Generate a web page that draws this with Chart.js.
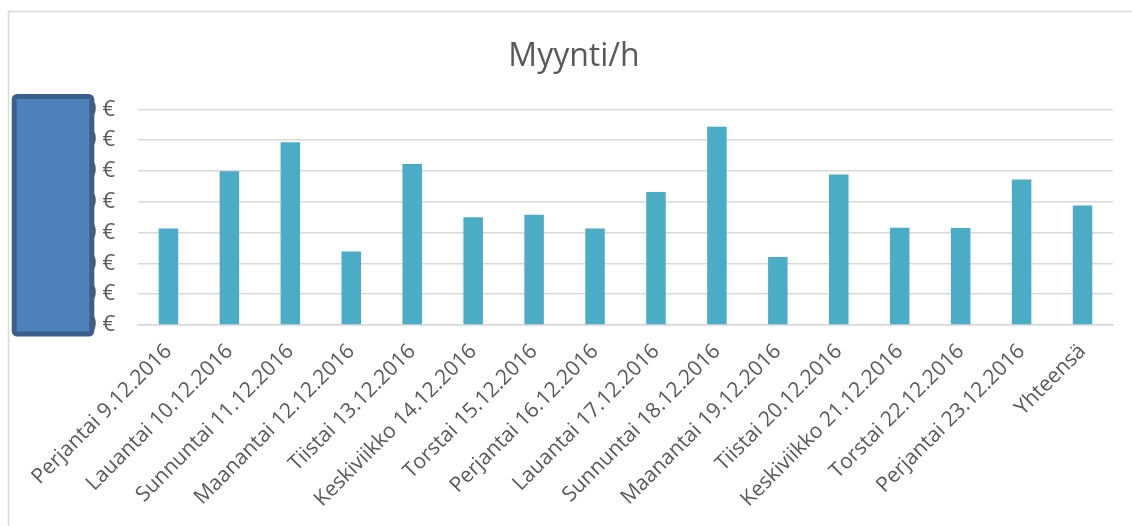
<!DOCTYPE html>
<html>
<head>
<meta charset="utf-8">
<script src="https://cdn.jsdelivr.net/npm/chart.js@4/dist/chart.umd.min.js"></script>
<style>
  html, body { margin: 0; padding: 0; background: #fff; }
  #wrap { width: 1132px; height: 526px; position: relative; }
</style>
</head>
<body>
<div id="wrap"><canvas id="chart"></canvas></div>
<script>
// categories and values (sales per hour)
const days = [
  "Perjantai 9.12.2016", "Lauantai 10.12.2016", "Sunnuntai 11.12.2016",
  "Maanantai 12.12.2016", "Tiistai 13.12.2016", "Keskiviikko 14.12.2016",
  "Torstai 15.12.2016", "Perjantai 16.12.2016", "Lauantai 17.12.2016",
  "Sunnuntai 18.12.2016", "Maanantai 19.12.2016", "Tiistai 20.12.2016",
  "Keskiviikko 21.12.2016", "Torstai 22.12.2016", "Perjantai 23.12.2016",
  "Yhteensä"
];
const salesPerHour = [
  31.3, 49.9, 59.3, 23.9, 52.3, 35.0, 35.8, 31.3,
  43.2, 64.4, 22.1, 48.9, 31.6, 31.5, 47.2, 38.8
];
const yMin = 0;
const yMax = 70;
const yStep = 10;

const textColor = "#595959";
const gridColor = "#d9d9d9";

// frame of the chart box plus the blue block covering the axis numbers
const decorations = {
  id: "decorations",
  beforeDraw(chart) {
    const ctx = chart.ctx;
    ctx.save();
    ctx.strokeStyle = gridColor;
    ctx.lineWidth = 1.5;
    ctx.beginPath();
    ctx.moveTo(8.5, chart.height);
    ctx.lineTo(8.5, 11.5);
    ctx.lineTo(chart.width, 11.5);
    ctx.stroke();
    ctx.restore();
  },
  afterDraw(chart) {
    const ctx = chart.ctx;
    ctx.save();
    ctx.fillStyle = "#4f81bd";
    ctx.strokeStyle = "#3a5f8b";
    ctx.lineWidth = 5;
    ctx.beginPath();
    ctx.roundRect(14.2, 96.5, 77.6, 237.5, 3);
    ctx.fill();
    ctx.stroke();
    ctx.restore();
  }
};

new Chart(document.getElementById("chart"), {
  type: "bar",
  data: {
    labels: days,
    datasets: [{
      label: "Myynti/h",
      data: salesPerHour,
      backgroundColor: "#4bacc6",
      borderWidth: 0,
      categoryPercentage: 1,
      barPercentage: 0.32
    }]
  },
  options: {
    responsive: true,
    maintainAspectRatio: false,
    animation: false,
    layout: { padding: { left: 35, right: 19, top: 0, bottom: 0 } },
    plugins: {
      legend: { display: false },
      tooltip: { enabled: false },
      title: {
        display: true,
        text: "Myynti/h",
        color: textColor,
        font: { family: "Open Sans", size: 32, weight: "normal" },
        padding: { top: 38, bottom: 33 }
      }
    },
    scales: {
      x: {
        grid: { display: false, drawTicks: false },
        border: { color: gridColor, width: 1.5 },
        ticks: {
          color: textColor,
          font: { family: "Open Sans", size: 21 },
          autoSkip: false,
          minRotation: 45,
          maxRotation: 45,
          padding: 14
        },
        afterFit(scale) { scale.height = 201; }
      },
      y: {
        min: yMin,
        max: yMax,
        grid: { color: gridColor, lineWidth: 1.5, drawTicks: false },
        border: { display: false },
        ticks: {
          stepSize: yStep,
          color: textColor,
          font: { family: "Open Sans", size: 22 },
          padding: 23,
          callback: (v) => v + " €"
        },
        afterFit(scale) { scale.width = 103; }
      }
    }
  },
  plugins: [decorations]
});
</script>
</body>
</html>
